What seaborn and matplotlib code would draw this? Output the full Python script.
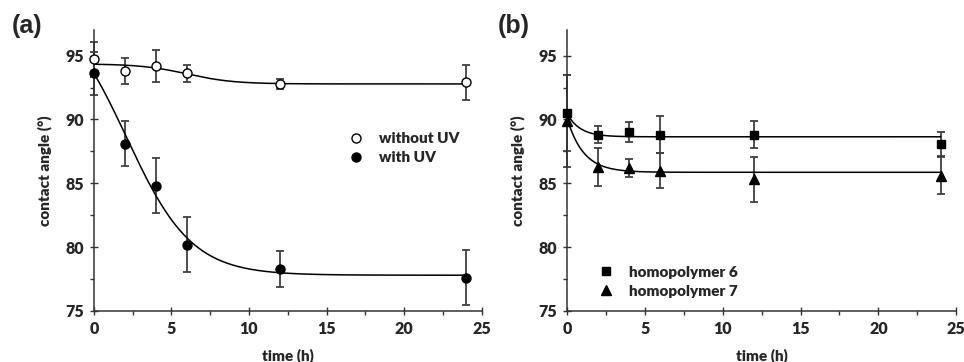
import numpy as np
import pandas as pd
import matplotlib
matplotlib.use("Agg")
import matplotlib.pyplot as plt
from matplotlib.ticker import MultipleLocator
import seaborn as sns

# ---------------- data ----------------
time_h = [0, 2, 4, 6, 12, 24]

# panel (a)
without_uv = [94.7, 93.8, 94.2, 93.6, 92.8, 92.9]
without_uv_err = [1.4, 1.0, 1.25, 0.7, 0.4, 1.35]
with_uv = [93.6, 88.1, 84.8, 80.2, 78.3, 77.6]
with_uv_err = [1.7, 1.75, 2.15, 2.15, 1.4, 2.15]

# panel (b)
homo6 = [90.5, 88.8, 89.0, 88.8, 88.8, 88.1]
homo6_err = [3.0, 0.65, 0.8, 1.45, 1.05, 0.95]
homo7 = [89.9, 86.3, 86.2, 86.0, 85.3, 85.6]
homo7_err = [3.6, 1.5, 0.7, 1.4, 1.75, 1.45]

# fitted-model parameters (Boltzmann: A1, A2, x0, dx)
fit_without_uv = [94.35, 92.78, 6.0, 1.5]
fit_with_uv = [99.4, 77.8, 2.1, 2.1]
# fitted-model parameters (exp decay: y0, A, tau)
fit_homo6 = [88.64, 1.85, 0.83]
fit_homo7 = [85.86, 4.3, 1.05]

x_ticks = [0, 5, 10, 15, 20, 25]
y_ticks = [75, 80, 85, 90, 95]


def boltzmann(t, p):
    a1, a2, x0, dx = p
    return a2 + (a1 - a2) / (1 + np.exp((t - x0) / dx))


def expdec(t, p):
    y0, a, tau = p
    return y0 + a * np.exp(-t / tau)


sns.set_style("ticks")
plt.rcParams['font.family'] = ['Lato', 'DejaVu Sans']
plt.rcParams['font.weight'] = 'bold'

fig = plt.figure(figsize=(9.64, 3.62), dpi=100)
ax_a = fig.add_axes([0.0975, 0.141, 0.402, 0.776])
ax_b = fig.add_axes([0.588, 0.141, 0.404, 0.776])

tfine = np.linspace(0, 24, 400)
ecol = '#404040'


def draw_series(ax, y, err, marker, face, label, ms):
    ax.errorbar(time_h, y, yerr=err, fmt='none', ecolor=ecol, elinewidth=1.3,
                capsize=3, capthick=1.3, zorder=2, clip_on=False)
    ax.plot(time_h, y, linestyle='none', marker=marker, markersize=ms,
            markerfacecolor=face, markeredgecolor='black', markeredgewidth=1.0,
            label=label, zorder=4, clip_on=False)


# panel (a)
df_a = pd.DataFrame({'t': tfine,
                     'w': boltzmann(tfine, fit_without_uv),
                     'u': boltzmann(tfine, fit_with_uv)})
sns.lineplot(data=df_a, x='t', y='w', ax=ax_a, color='black', lw=1.1, zorder=3)
sns.lineplot(data=df_a, x='t', y='u', ax=ax_a, color='black', lw=1.1, zorder=3)
draw_series(ax_a, without_uv, without_uv_err, 'o', 'white', 'without UV', 6.5)
draw_series(ax_a, with_uv, with_uv_err, 'o', 'black', 'with UV', 6.5)

# panel (b)
df_b = pd.DataFrame({'t': tfine,
                     'h6': expdec(tfine, fit_homo6),
                     'h7': expdec(tfine, fit_homo7)})
sns.lineplot(data=df_b, x='t', y='h6', ax=ax_b, color='black', lw=1.1, zorder=3)
sns.lineplot(data=df_b, x='t', y='h7', ax=ax_b, color='black', lw=1.1, zorder=3)
draw_series(ax_b, homo6, homo6_err, 's', 'black', 'homopolymer 6', 6)
draw_series(ax_b, homo7, homo7_err, '^', 'black', 'homopolymer 7', 7)

for ax, lab in [(ax_a, '(a)'), (ax_b, '(b)')]:
    ax.set_xlim(0, 25)
    ax.set_ylim(75, 97)
    ax.set_xticks(x_ticks)
    ax.set_yticks(y_ticks)
    ax.xaxis.set_minor_locator(MultipleLocator(2.5))
    ax.yaxis.set_minor_locator(MultipleLocator(2.5))
    ax.tick_params(which='major', direction='inout', length=6, width=1.0,
                   labelsize=11.5, color='#333333', pad=4)
    ax.tick_params(which='minor', direction='out', length=3, width=1.0,
                   color='#333333')
    for lbl in ax.get_xticklabels() + ax.get_yticklabels():
        lbl.set_fontweight('heavy')
    for s in ['top', 'right']:
        ax.spines[s].set_visible(False)
    for s in ['left', 'bottom']:
        ax.spines[s].set_linewidth(1.1)
        ax.spines[s].set_color('#333333')
    ax.set_xlabel('time (h)', fontsize=11, fontweight='heavy')
    ax.set_ylabel('contact angle (°)', fontsize=11, fontweight='heavy')
    ax.xaxis.set_label_coords(0.5, -0.135)
    ax.yaxis.set_label_coords(-0.108, 0.5)

fig.text(0.012, 0.91, '(a)', fontsize=18, fontweight='bold',
         family=['Liberation Sans', 'DejaVu Sans'])
fig.text(0.516, 0.91, '(b)', fontsize=18, fontweight='bold',
         family=['Liberation Sans', 'DejaVu Sans'])

leg_a = ax_a.legend(loc='upper left', bbox_to_anchor=(0.62, 0.685), frameon=False,
                    handletextpad=1.0, labelspacing=0.4, handlelength=1.0,
                    prop={'weight': 'heavy', 'size': 11})
leg_b = ax_b.legend(loc='upper left', bbox_to_anchor=(0.045, 0.21), frameon=False,
                    handletextpad=1.0, labelspacing=0.4, handlelength=1.0,
                    prop={'weight': 'heavy', 'size': 11})

fig.savefig('out.png', dpi=100)
